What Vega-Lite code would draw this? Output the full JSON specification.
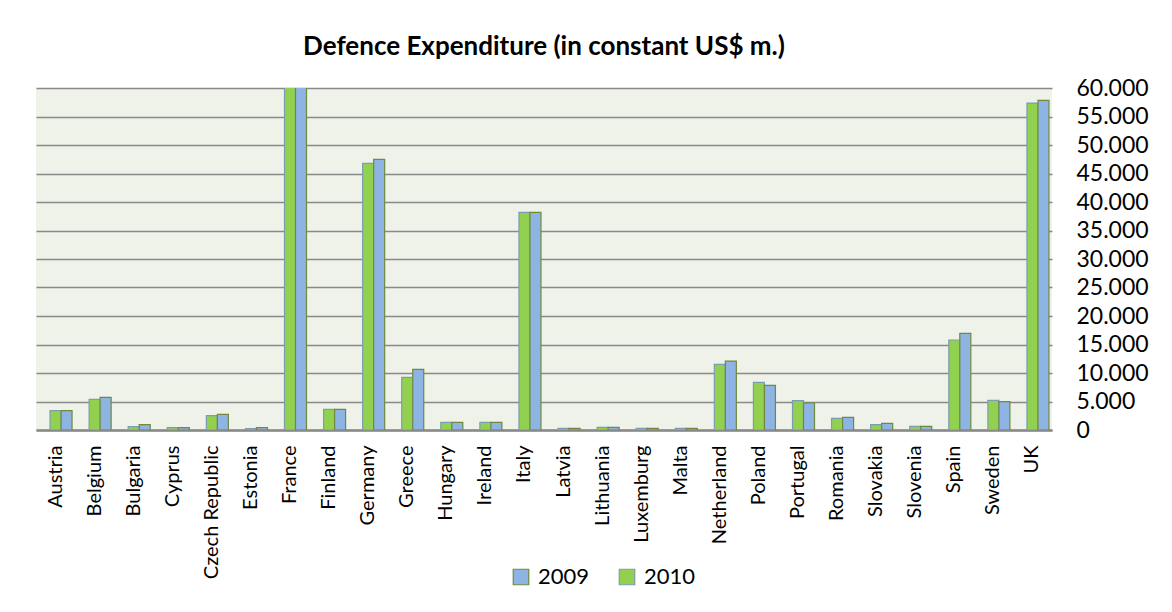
{
  "$schema": "https://vega.github.io/schema/vega-lite/v6.json",
  "autosize": {"type": "none"},
  "padding": {"left": 36, "top": 88, "right": 120, "bottom": 182},
  "width": 1016,
  "height": 342,
  "background": "white",
  "title": {
    "text": "Defence Expenditure (in constant US$ m.)",
    "font": "Lato",
    "fontSize": 26,
    "fontWeight": "bold",
    "color": "black",
    "anchor": "middle",
    "offset": 17
  },
  "data": {
    "values": [
      {"country": "Austria", "year": "2010", "value": 3390},
      {"country": "Austria", "year": "2009", "value": 3390},
      {"country": "Belgium", "year": "2010", "value": 5390},
      {"country": "Belgium", "year": "2009", "value": 5740},
      {"country": "Bulgaria", "year": "2010", "value": 585},
      {"country": "Bulgaria", "year": "2009", "value": 935},
      {"country": "Cyprus", "year": "2010", "value": 410},
      {"country": "Cyprus", "year": "2009", "value": 410},
      {"country": "Czech Republic", "year": "2010", "value": 2510},
      {"country": "Czech Republic", "year": "2009", "value": 2750},
      {"country": "Estonia", "year": "2010", "value": 230},
      {"country": "Estonia", "year": "2009", "value": 410},
      {"country": "France", "year": "2010", "value": 63000},
      {"country": "France", "year": "2009", "value": 63500},
      {"country": "Finland", "year": "2010", "value": 3630},
      {"country": "Finland", "year": "2009", "value": 3630},
      {"country": "Germany", "year": "2010", "value": 46780},
      {"country": "Germany", "year": "2009", "value": 47480},
      {"country": "Greece", "year": "2010", "value": 9240},
      {"country": "Greece", "year": "2009", "value": 10650},
      {"country": "Hungary", "year": "2010", "value": 1350},
      {"country": "Hungary", "year": "2009", "value": 1350},
      {"country": "Ireland", "year": "2010", "value": 1350},
      {"country": "Ireland", "year": "2009", "value": 1350},
      {"country": "Italy", "year": "2010", "value": 38180},
      {"country": "Italy", "year": "2009", "value": 38180},
      {"country": "Latvia", "year": "2010", "value": 290},
      {"country": "Latvia", "year": "2009", "value": 290},
      {"country": "Lithuania", "year": "2010", "value": 470},
      {"country": "Lithuania", "year": "2009", "value": 470},
      {"country": "Luxemburg", "year": "2010", "value": 290},
      {"country": "Luxemburg", "year": "2009", "value": 290},
      {"country": "Malta", "year": "2010", "value": 290},
      {"country": "Malta", "year": "2009", "value": 290},
      {"country": "Netherland", "year": "2010", "value": 11520},
      {"country": "Netherland", "year": "2009", "value": 12100},
      {"country": "Poland", "year": "2010", "value": 8360},
      {"country": "Poland", "year": "2009", "value": 7840},
      {"country": "Portugal", "year": "2010", "value": 5140},
      {"country": "Portugal", "year": "2009", "value": 4740},
      {"country": "Romania", "year": "2010", "value": 2050},
      {"country": "Romania", "year": "2009", "value": 2220},
      {"country": "Slovakia", "year": "2010", "value": 935},
      {"country": "Slovakia", "year": "2009", "value": 1170},
      {"country": "Slovenia", "year": "2010", "value": 640},
      {"country": "Slovenia", "year": "2009", "value": 640},
      {"country": "Spain", "year": "2010", "value": 15790},
      {"country": "Spain", "year": "2009", "value": 16960},
      {"country": "Sweden", "year": "2010", "value": 5200},
      {"country": "Sweden", "year": "2009", "value": 4970},
      {"country": "UK", "year": "2010", "value": 57360},
      {"country": "UK", "year": "2009", "value": 57830}
    ]
  },
  "mark": {"type": "bar", "clip": true, "strokeWidth": 1.2},
  "encoding": {
    "x": {
      "field": "country",
      "type": "nominal",
      "sort": null,
      "scale": {"paddingInner": 0.155, "paddingOuter": 0.0775},
      "axis": {
        "title": null,
        "labelAngle": -90,
        "labelFont": "Lato",
        "labelFontSize": 20,
        "labelColor": "black",
        "labelPadding": 15,
        "ticks": false,
        "domainColor": "#898989",
        "domainWidth": 2.5,
        "labelOverlap": false
      }
    },
    "xOffset": {
      "field": "year",
      "type": "nominal",
      "scale": {"domain": ["pad", "2010", "2009"], "paddingInner": 0, "paddingOuter": 0}
    },
    "y": {
      "field": "value",
      "type": "quantitative",
      "scale": {"domain": [0, 60000], "nice": false},
      "axis": {
        "title": null,
        "orient": "right",
        "values": [0, 5000, 10000, 15000, 20000, 25000, 30000, 35000, 40000, 45000, 50000, 55000, 60000],
        "labelExpr": "replace(format(datum.value, ','), ',', '.')",
        "labelFont": "Lato",
        "labelFontSize": 23,
        "labelColor": "black",
        "labelAlign": "left",
        "labelPadding": 24,
        "ticks": false,
        "domain": false,
        "grid": true,
        "gridColor": "#898989",
        "gridWidth": 1.6,
        "gridOpacity": 1
      }
    },
    "fill": {
      "field": "year",
      "type": "nominal",
      "scale": {"domain": ["2009", "2010"], "range": ["#8db4e2", "#92d050"]},
      "legend": {
        "title": null,
        "orient": "none",
        "legendX": 474,
        "legendY": 478,
        "direction": "horizontal",
        "symbolType": "square",
        "symbolSize": 240,
        "symbolStrokeWidth": 1.2,
        "labelFont": "Lato",
        "labelFontSize": 22,
        "labelColor": "black",
        "columnPadding": 26,
        "labelOffset": 6
      }
    },
    "stroke": {
      "field": "year",
      "type": "nominal",
      "scale": {"domain": ["2009", "2010"], "range": ["#6f8a3c", "#7b9db3"]},
      "legend": {
        "title": null,
        "orient": "none",
        "legendX": 474,
        "legendY": 478,
        "direction": "horizontal",
        "symbolType": "square",
        "symbolSize": 240,
        "symbolStrokeWidth": 1.2,
        "labelFont": "Lato",
        "labelFontSize": 22,
        "labelColor": "black",
        "columnPadding": 26,
        "labelOffset": 6
      }
    }
  },
  "config": {
    "view": {"fill": "#eff2e8", "stroke": null}
  }
}
